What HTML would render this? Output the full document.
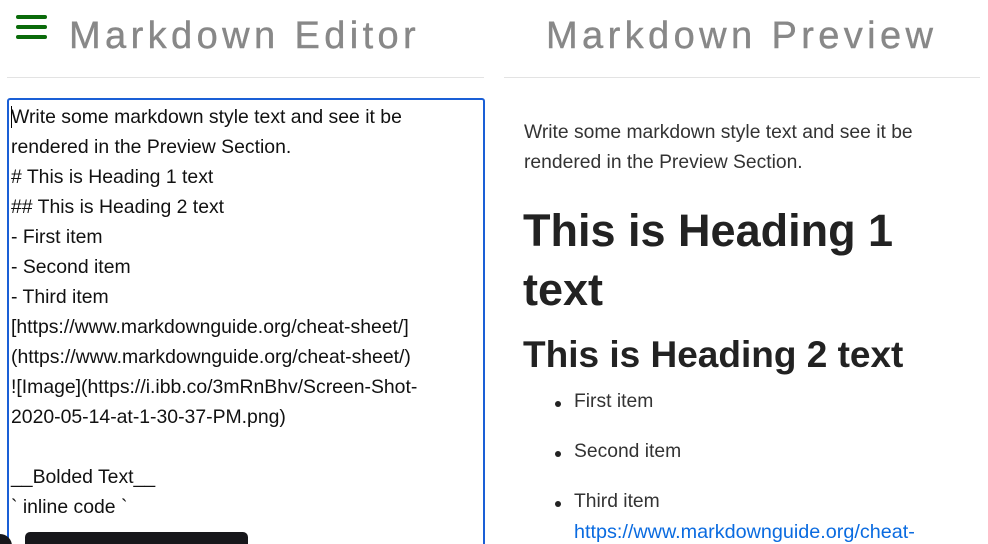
<!DOCTYPE html>
<html style="height:544px;overflow:hidden"><head><style>
body{margin:0;width:988px;height:544px;overflow:hidden;background:#fff;font-family:"Liberation Sans",Arial,sans-serif;position:relative}
.a{position:absolute;white-space:nowrap}
.h{font-size:38px;color:#888;letter-spacing:4.4px;top:15px;-webkit-text-stroke:0.4px #888}
.bar{position:absolute;left:16px;width:31px;height:4px;background:#0a6b0a;border-radius:2px}
.hr{position:absolute;top:77px;height:1px;background:#e3e3e3}
.ed{position:absolute;left:7px;top:98px;width:474px;height:460px;border:2px solid #1a5fd6;border-radius:3px}
.el{position:absolute;left:11px;font-size:19.4px;color:#111;line-height:30px;white-space:nowrap}
.pl{position:absolute;left:524px;font-size:19.3px;color:#333;line-height:30px;white-space:nowrap}
.li{position:absolute;left:574px;font-size:19.3px;color:#333;white-space:nowrap}
.dot{position:absolute;left:555px;width:6px;height:6px;border-radius:3px;background:#222}
</style></head><body>
<div class="bar" style="top:15px"></div><div class="bar" style="top:25px"></div><div class="bar" style="top:35px"></div>
<div class="a h" style="left:69px">Markdown Editor</div>
<div class="a h" style="left:546px">Markdown Preview</div>
<div class="hr" style="left:7px;width:477px"></div>
<div class="hr" style="left:504px;width:476px"></div>
<div class="ed"></div>
<div class="a" style="left:11px;top:106px;width:1px;height:22px;background:#000"></div>
<div class="el" style="top:102px">Write some markdown style text and see it be<br>rendered in the Preview Section.<br># This is Heading 1 text<br>## This is Heading 2 text<br>- First item<br>- Second item<br>- Third item<br>[https://www.markdownguide.org/cheat-sheet/]<br>(https://www.markdownguide.org/cheat-sheet/)<br>![Image](https://i.ibb.co/3mRnBhv/Screen-Shot-<br>2020-05-14-at-1-30-37-PM.png)<br><br>__Bolded Text__<br>` inline code `</div>
<div class="pl" style="top:118px">Write some markdown style text and see it be<br>rendered in the Preview Section.</div>
<div class="a" style="left:523px;top:201px;font-size:45px;line-height:59px;color:#222;font-weight:bold">This is Heading 1<br>text</div>
<div class="a" style="left:523px;top:334px;font-size:37px;color:#222;font-weight:bold">This is Heading 2 text</div>
<div class="dot" style="top:401px"></div><div class="li" style="top:391px">First item</div>
<div class="dot" style="top:451px"></div><div class="li" style="top:441px">Second item</div>
<div class="dot" style="top:501px"></div><div class="li" style="top:491px">Third item</div>
<div class="li" style="top:521px;color:#0a6be0;font-size:19.8px">https://www.markdownguide.org/cheat-</div>
<div class="a" style="left:25px;top:532px;width:223px;height:20px;background:#17171b;border-radius:5px"></div>
<div class="a" style="left:-12px;top:534px;width:24px;height:24px;border-radius:12px;background:#17171b"></div>
</body></html>
